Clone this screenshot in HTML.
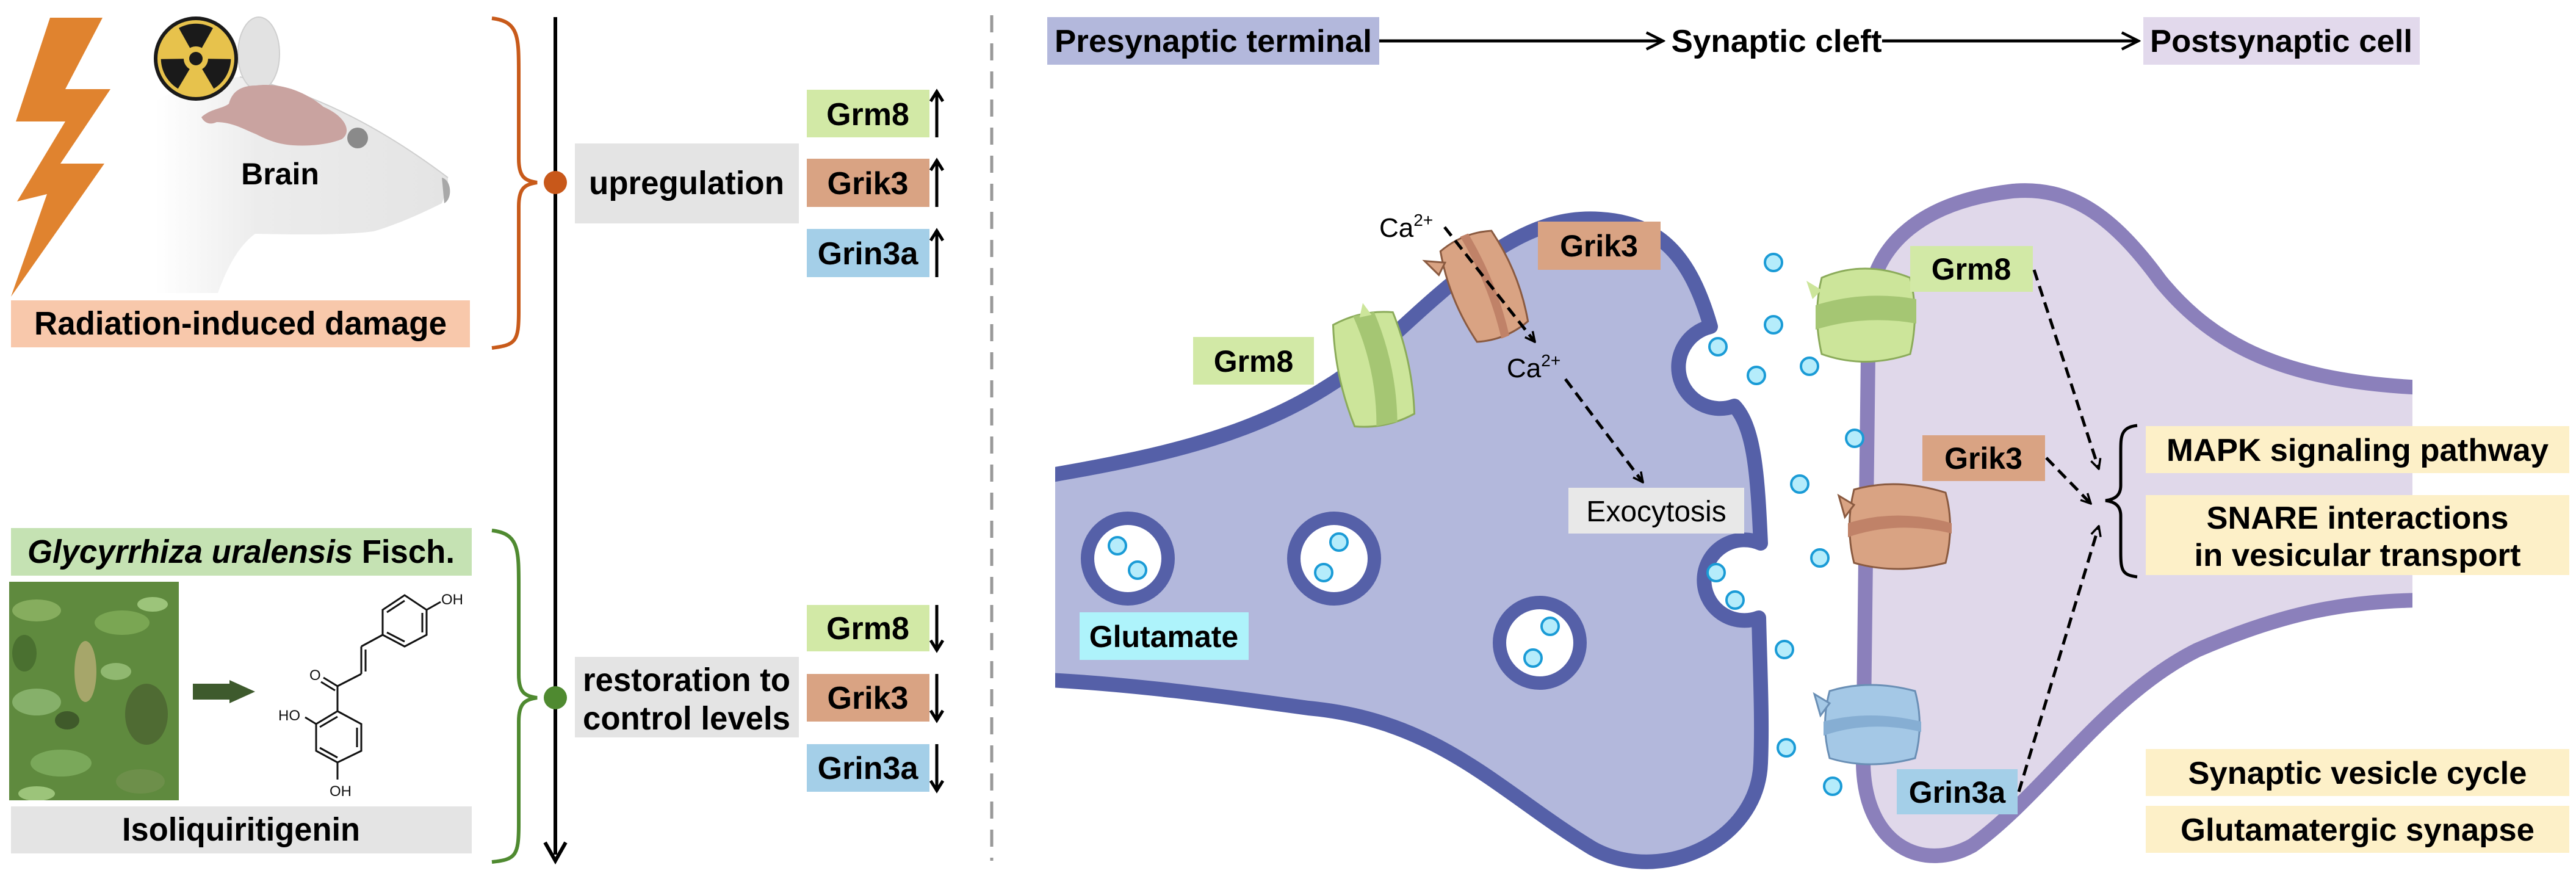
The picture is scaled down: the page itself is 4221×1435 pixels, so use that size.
<!DOCTYPE html>
<html><head><meta charset="utf-8"><style>
html,body{margin:0;padding:0;background:#fff;}
svg{display:block;}
text{font-family:"Liberation Sans",Arial,sans-serif;}
.b{font-weight:bold;}
</style></head><body>
<svg width="4221" height="1435" viewBox="0 0 4221 1435" xmlns="http://www.w3.org/2000/svg">
<defs>
<marker id="ah" viewBox="0 0 20 20" refX="18" refY="10" markerWidth="20" markerHeight="20" markerUnits="userSpaceOnUse" orient="auto">
<path d="M2,2 L18,10 L2,18" fill="none" stroke="#000" stroke-width="3.5"/></marker>
<marker id="ah2" viewBox="0 0 30 30" refX="27" refY="15" markerWidth="34" markerHeight="34" markerUnits="userSpaceOnUse" orient="auto">
<path d="M3,3 L27,15 L3,27" fill="none" stroke="#000" stroke-width="4"/></marker>
<linearGradient id="mg" x1="0" y1="0" x2="1" y2="0"><stop offset="0" stop-color="#fff"/><stop offset="0.35" stop-color="#ececec"/><stop offset="1" stop-color="#e4e4e4"/></linearGradient>
<clipPath id="cpre"><rect x="1729" y="0" width="2000" height="1435"/></clipPath>
<clipPath id="cpost"><rect x="2900" y="0" width="1053" height="1435"/></clipPath>
<clipPath id="cph"><rect x="15" y="953" width="278" height="358"/></clipPath>
</defs>

<!-- LEFT PANEL -->
<polygon points="82,29 168,29 107,146 181,146 99,268 171,268 18,486 77,318 28,330 107,199 26,199" fill="#e0832f"/>
<!-- mouse -->
<path d="M255,165 C300,140 360,128 393,126 C520,150 640,220 734,291 L734,306 L724,333 C690,350 650,368 612,379 C560,386 470,384 418,383 C395,400 375,430 357,480 L255,480 Z" fill="url(#mg)"/>
<path d="M393,126 C520,150 640,220 734,291" fill="none" stroke="#cfcfcf" stroke-width="2"/>
<ellipse cx="424" cy="88" rx="34" ry="60" fill="#e2e2e2" stroke="#cfcfcf" stroke-width="2"/>
<path d="M724,291 C740,295 742,325 728,333 Z" fill="#a8a8a8"/>
<path d="M330,192 C345,178 365,178 375,170 C380,150 395,140 420,140 C460,135 500,150 530,175 C565,190 578,215 560,228 C540,236 510,240 480,238 C455,236 440,230 420,220 C400,212 380,200 355,200 C345,205 335,202 330,192Z" fill="#c9a3a0"/>
<circle cx="586" cy="226" r="17" fill="#8a8a8a"/>
<circle cx="321" cy="96" r="66" fill="#e7c24c" stroke="#1a1a1a" stroke-width="6"/>
<g fill="#1a1a1a">
<path d="M321,96 L293,46 A58,58 0 0 1 349,46 Z"/>
<path d="M321,96 L293,46 A58,58 0 0 1 349,46 Z" transform="rotate(120 321 96)"/>
<path d="M321,96 L293,46 A58,58 0 0 1 349,46 Z" transform="rotate(240 321 96)"/>
</g>
<circle cx="321" cy="96" r="20" fill="#e7c24c"/><circle cx="321" cy="96" r="11" fill="#1a1a1a"/>
<text x="459" y="302" class="b" font-size="50" text-anchor="middle">Brain</text>
<rect x="18" y="492" width="752" height="77" fill="#f8c8ab"/>
<text x="394" y="548" class="b" font-size="54" text-anchor="middle" textLength="676" lengthAdjust="spacingAndGlyphs">Radiation-induced damage</text>

<!-- bottom left -->
<rect x="18" y="865" width="755" height="78" fill="#c5e2b3"/>
<text x="395" y="922" font-size="54" class="b" text-anchor="middle" textLength="700" lengthAdjust="spacingAndGlyphs"><tspan font-style="italic">Glycyrrhiza uralensis</tspan> Fisch.</text>
<rect x="15" y="953" width="278" height="358" fill="#5f8a3e"/>
<g clip-path="url(#cph)">
<ellipse cx="60" cy="1000" rx="40" ry="18" fill="#86ad5e"/>
<ellipse cx="200" cy="1020" rx="45" ry="20" fill="#7aa653"/>
<ellipse cx="140" cy="1100" rx="18" ry="50" fill="#a6a66a"/>
<ellipse cx="60" cy="1150" rx="40" ry="22" fill="#86b06a"/>
<ellipse cx="240" cy="1170" rx="35" ry="50" fill="#4f6b33"/>
<ellipse cx="100" cy="1250" rx="50" ry="22" fill="#7aa85a"/>
<ellipse cx="230" cy="1280" rx="40" ry="20" fill="#6d8f4a"/>
<ellipse cx="110" cy="1180" rx="20" ry="15" fill="#3f5a2a"/>
<ellipse cx="250" cy="990" rx="25" ry="12" fill="#9cc47a"/>
<ellipse cx="40" cy="1070" rx="20" ry="30" fill="#4a7030"/>
<ellipse cx="190" cy="1100" rx="25" ry="14" fill="#90b870"/>
<ellipse cx="60" cy="1300" rx="30" ry="12" fill="#9cc47a"/>
</g>
<rect x="316" y="1120" width="62" height="26" fill="#3e5a2d"/>
<polygon points="376,1114 418,1133 376,1152" fill="#3e5a2d"/>
<g fill="none" stroke="#111" stroke-width="3">
<polygon points="553,1165 592,1186 592,1230 553,1249 518,1230 518,1186"/>
<line x1="585" y1="1192" x2="585" y2="1224"/><line x1="553" y1="1241" x2="524" y2="1225"/><line x1="524" y1="1191" x2="553" y2="1174"/>
<line x1="553" y1="1165" x2="553" y2="1124"/><line x1="553" y1="1124" x2="530" y2="1110"/><line x1="549" y1="1131" x2="526" y2="1117"/>
<line x1="553" y1="1124" x2="592" y2="1104"/><line x1="592" y1="1104" x2="592" y2="1059"/><line x1="599" y1="1100" x2="599" y2="1064"/>
<line x1="592" y1="1059" x2="627" y2="1040"/>
<polygon points="627,999 663,975 699,999 699,1040 663,1059 627,1040"/>
<line x1="634" y1="1003" x2="663" y2="984"/><line x1="692" y1="1004" x2="692" y2="1036"/><line x1="634" y1="1036" x2="663" y2="1051"/>
<line x1="699" y1="999" x2="722" y2="986"/><line x1="518" y1="1186" x2="500" y2="1175"/><line x1="553" y1="1249" x2="553" y2="1277"/>
</g>
<g font-size="24" fill="#111"><text x="507" y="1114">O</text><text x="723" y="990">OH</text><text x="456" y="1180">HO</text><text x="540" y="1304">OH</text></g>
<rect x="18" y="1321" width="755" height="77" fill="#e4e4e4"/>
<text x="395" y="1377" class="b" font-size="54" text-anchor="middle" textLength="390" lengthAdjust="spacingAndGlyphs">Isoliquiritigenin</text>

<!-- braces -->
<path d="M806,30 C850,35 850,60 850,120 L850,260 C850,290 860,296 880,299 C860,302 850,308 850,338 L850,510 C850,560 845,565 806,570" fill="none" stroke="#c85a1a" stroke-width="6"/>
<path d="M806,869 C850,874 850,900 850,960 L850,1105 C850,1135 860,1140 880,1143 C860,1146 850,1152 850,1182 L850,1350 C850,1402 845,1408 806,1412" fill="none" stroke="#4f8a30" stroke-width="6"/>
<line x1="910" y1="28" x2="910" y2="1400" stroke="#000" stroke-width="6"/>
<path d="M893,1380 L910,1410 L927,1380" fill="none" stroke="#000" stroke-width="6"/>
<circle cx="910" cy="299" r="19" fill="#c8581a"/>
<circle cx="910" cy="1143" r="19" fill="#4f8a30"/>

<rect x="942" y="235" width="367" height="131" fill="#e4e4e4"/>
<text x="1125" y="318" font-size="54" text-anchor="middle" style="font-weight:600" textLength="320" lengthAdjust="spacingAndGlyphs">upregulation</text>
<rect x="942" y="1076" width="367" height="132" fill="#e4e4e4"/>
<text x="1125" y="1132" font-size="54" text-anchor="middle" style="font-weight:600" textLength="340" lengthAdjust="spacingAndGlyphs">restoration to</text>
<text x="1125" y="1195" font-size="54" text-anchor="middle" style="font-weight:600" textLength="340" lengthAdjust="spacingAndGlyphs">control levels</text>

<g class="b" font-size="52" text-anchor="middle">
<rect x="1322" y="147" width="201" height="78" fill="#d2e9a6"/><text x="1422" y="205" class="b">Grm8</text>
<rect x="1322" y="260" width="201" height="79" fill="#d9a383"/><text x="1422" y="318" class="b">Grik3</text>
<rect x="1322" y="375" width="201" height="79" fill="#a4cfe8"/><text x="1422" y="433" class="b">Grin3a</text>
<rect x="1322" y="991" width="201" height="76" fill="#d2e9a6"/><text x="1422" y="1047" class="b">Grm8</text>
<rect x="1322" y="1104" width="201" height="78" fill="#d9a383"/><text x="1422" y="1161" class="b">Grik3</text>
<rect x="1322" y="1219" width="201" height="78" fill="#a4cfe8"/><text x="1422" y="1276" class="b">Grin3a</text>
</g>
<g stroke="#000" stroke-width="5" fill="none">
<line x1="1535" y1="152" x2="1535" y2="225"/><path d="M1525,166 L1535,150 L1545,166"/>
<line x1="1535" y1="265" x2="1535" y2="339"/><path d="M1525,279 L1535,263 L1545,279"/>
<line x1="1535" y1="380" x2="1535" y2="454"/><path d="M1525,394 L1535,378 L1545,394"/>
<line x1="1535" y1="991" x2="1535" y2="1063"/><path d="M1525,1049 L1535,1065 L1545,1049"/>
<line x1="1535" y1="1104" x2="1535" y2="1178"/><path d="M1525,1164 L1535,1180 L1545,1164"/>
<line x1="1535" y1="1219" x2="1535" y2="1293"/><path d="M1525,1279 L1535,1295 L1545,1279"/>
</g>
<line x1="1625" y1="25" x2="1625" y2="1410" stroke="#999" stroke-width="5" stroke-dasharray="28,18"/>

<!-- RIGHT PANEL header -->
<rect x="1716" y="28" width="544" height="78" fill="#b3b8dc"/>
<text x="1988" y="85" class="b" font-size="52" text-anchor="middle" textLength="520" lengthAdjust="spacingAndGlyphs">Presynaptic terminal</text>
<line x1="2260" y1="67" x2="2725" y2="67" stroke="#000" stroke-width="5" marker-end="url(#ah2)"/>
<text x="2911" y="85" font-size="52" text-anchor="middle" style="font-weight:600" textLength="345" lengthAdjust="spacingAndGlyphs">Synaptic cleft</text>
<line x1="3084" y1="67" x2="3504" y2="67" stroke="#000" stroke-width="5" marker-end="url(#ah2)"/>
<rect x="3512" y="28" width="453" height="78" fill="#e2d9ec"/>
<text x="3738" y="85" class="b" font-size="52" text-anchor="middle" textLength="430" lengthAdjust="spacingAndGlyphs">Postsynaptic cell</text>

<!-- presynaptic -->
<g clip-path="url(#cpre)">
<path d="M1700,782 C1950,740 2100,700 2250,580 C2400,440 2500,350 2622,359 C2720,365 2770,420 2803,535 A68,68 0 1 0 2842,665 C2875,700 2880,780 2885,890 A66,66 0 1 0 2882,1012 C2884,1100 2888,1180 2885,1250 C2880,1380 2720,1450 2610,1390 C2460,1300 2360,1180 2144,1160 C2000,1140 1850,1120 1700,1113 Z" fill="#b3b8dc" stroke="#5560a8" stroke-width="24" stroke-linejoin="round"/>
</g>
<!-- postsynaptic -->
<g clip-path="url(#cpost)">
<path d="M3970,635 C3750,625 3630,570 3540,460 C3460,350 3390,305 3298,313 C3150,330 3070,400 3062,500 L3053,1250 C3055,1385 3150,1430 3232,1385 C3350,1300 3450,1140 3600,1065 C3750,1000 3850,985 3970,983 Z" fill="#e0d8ea" stroke="#8b80bb" stroke-width="24" stroke-linejoin="round"/>
</g>
<!-- vesicles -->
<g fill="#fff" stroke="#5560a8" stroke-width="22">
<circle cx="1848" cy="915" r="66"/><circle cx="2186" cy="915" r="66"/><circle cx="2523" cy="1053" r="66"/>
</g>
<g fill="#b5ecfb" stroke="#1a9bd6" stroke-width="4">
<circle cx="1831" cy="894" r="14"/><circle cx="1864" cy="934" r="14"/>
<circle cx="2194" cy="888" r="14"/><circle cx="2169" cy="938" r="14"/>
<circle cx="2540" cy="1026" r="14"/><circle cx="2512" cy="1078" r="14"/>
<circle cx="2906" cy="430" r="14"/><circle cx="2906" cy="532" r="14"/><circle cx="2815" cy="568" r="14"/>
<circle cx="2878" cy="615" r="14"/><circle cx="2965" cy="600" r="14"/><circle cx="3039" cy="718" r="14"/>
<circle cx="2949" cy="793" r="14"/><circle cx="2982" cy="914" r="14"/><circle cx="2924" cy="1064" r="14"/>
<circle cx="2927" cy="1225" r="14"/><circle cx="3003" cy="1288" r="14"/><circle cx="2812" cy="938" r="14"/>
<circle cx="2843" cy="983" r="14"/>
</g>

<!-- receptors -->
<g transform="translate(2432,469) rotate(-22)">
<path d="M-45,-80 Q0,-95 45,-80 Q62,0 45,80 Q0,95 -45,80 Q-62,0 -45,-80Z" fill="#d9a383" stroke="#8a5a40" stroke-width="3"/>
<path d="M-6,-90 Q8,0 -6,90 L8,90 Q22,0 8,-90Z" fill="#c08268"/>
<path d="M-45,-60 L-75,-75 L-62,-45Z" fill="#d9a383" stroke="#8a5a40" stroke-width="3"/>
</g>
<g transform="translate(2251,605) rotate(-12)">
<path d="M-50,-85 Q0,-100 50,-85 Q65,0 50,85 Q0,100 -50,85 Q-65,0 -50,-85Z" fill="#cce59a" stroke="#8bab5a" stroke-width="3"/>
<path d="M-15,-92 Q5,0 -15,92 L20,92 Q38,0 20,-92Z" fill="#a5c673"/>
<path d="M-5,-88 L5,-110 L15,-88Z" fill="#cce59a"/>
</g>
<g transform="translate(3055,515)">
<path d="M-70,-60 Q0,-90 75,-60 Q90,0 75,65 Q0,90 -70,65 Q-85,0 -70,-60Z" fill="#cce59a" stroke="#8bab5a" stroke-width="3"/>
<path d="M-80,-15 Q0,-40 85,-25 L85,15 Q0,0 -80,25Z" fill="#a5c673"/>
<path d="M-70,-40 L-95,-55 L-85,-25Z" fill="#cce59a"/>
</g>
<g transform="translate(3108,862)">
<path d="M-70,-60 Q0,-80 80,-55 Q95,0 80,60 Q0,80 -70,60 Q-85,0 -70,-60Z" fill="#d9a383" stroke="#8a5a40" stroke-width="3"/>
<path d="M-80,-5 Q0,-30 90,-5 L90,12 Q0,-10 -80,18Z" fill="#c08268"/>
<path d="M-70,-35 L-95,-50 L-85,-15Z" fill="#d9a383" stroke="#8a5a40" stroke-width="3"/>
</g>
<g transform="translate(3063,1187)">
<path d="M-65,-55 Q0,-75 75,-55 Q90,0 75,55 Q0,75 -65,55 Q-80,0 -65,-55Z" fill="#a4c8e6" stroke="#6a8fb5" stroke-width="3"/>
<path d="M-75,-5 Q0,-25 85,-5 L85,12 Q0,-8 -75,18Z" fill="#86aed3"/>
<path d="M-65,-35 L-90,-50 L-80,-15Z" fill="#a4c8e6" stroke="#6a8fb5" stroke-width="3"/>
</g>

<!-- labels in synapse -->
<g font-size="50" text-anchor="middle">
<rect x="2520" y="363" width="201" height="79" fill="#d9a383"/><text x="2620" y="420" class="b">Grik3</text>
<rect x="1955" y="552" width="198" height="78" fill="#d2e9a6"/><text x="2054" y="609" class="b">Grm8</text>
<rect x="1769" y="1003" width="277" height="78" fill="#aef3fb"/><text x="1907" y="1060" class="b">Glutamate</text>
<rect x="2570" y="799" width="288" height="75" fill="#e8e8e8"/><text x="2714" y="854" font-size="48">Exocytosis</text>
<rect x="3130" y="403" width="201" height="75" fill="#d2e9a6"/><text x="3230" y="458" class="b">Grm8</text>
<rect x="3150" y="713" width="201" height="75" fill="#d9a383"/><text x="3250" y="768" class="b">Grik3</text>
<rect x="3108" y="1260" width="198" height="74" fill="#a4cfe8"/><text x="3207" y="1315" class="b">Grin3a</text>
</g>
<text x="2260" y="388" font-size="44">Ca<tspan font-size="28" dy="-18">2+</tspan></text>
<text x="2469" y="618" font-size="44">Ca<tspan font-size="28" dy="-18">2+</tspan></text>
<g stroke="#000" stroke-width="5" stroke-dasharray="18,10" fill="none">
<line x1="2367" y1="372" x2="2515" y2="560" marker-end="url(#ah)"/>
<line x1="2565" y1="621" x2="2692" y2="790" marker-end="url(#ah)"/>
<line x1="3333" y1="442" x2="3439" y2="768" marker-end="url(#ah)"/>
<line x1="3353" y1="750" x2="3426" y2="825" marker-end="url(#ah)"/>
<line x1="3308" y1="1297" x2="3439" y2="862" marker-end="url(#ah)"/>
</g>
<path d="M3502,697 C3475,700 3475,715 3475,740 L3475,795 C3475,812 3465,818 3450,820 C3465,822 3475,828 3475,845 L3475,905 C3475,935 3478,942 3502,945" fill="none" stroke="#000" stroke-width="5"/>
<g font-size="52" text-anchor="middle">
<rect x="3516" y="698" width="694" height="77" fill="#fdf0c8"/><text x="3863" y="755" class="b" textLength="626" lengthAdjust="spacingAndGlyphs">MAPK signaling pathway</text>
<rect x="3516" y="811" width="694" height="131" fill="#fdf0c8"/><text x="3863" y="866" class="b" textLength="495" lengthAdjust="spacingAndGlyphs">SNARE interactions</text>
<text x="3863" y="927" class="b" textLength="535" lengthAdjust="spacingAndGlyphs">in vesicular transport</text>
<rect x="3516" y="1227" width="694" height="77" fill="#fdf0c8"/><text x="3863" y="1284" class="b" textLength="555" lengthAdjust="spacingAndGlyphs">Synaptic vesicle cycle</text>
<rect x="3516" y="1320" width="694" height="77" fill="#fdf0c8"/><text x="3863" y="1377" class="b" textLength="580" lengthAdjust="spacingAndGlyphs">Glutamatergic synapse</text>
</g>
</svg>
</body></html>
